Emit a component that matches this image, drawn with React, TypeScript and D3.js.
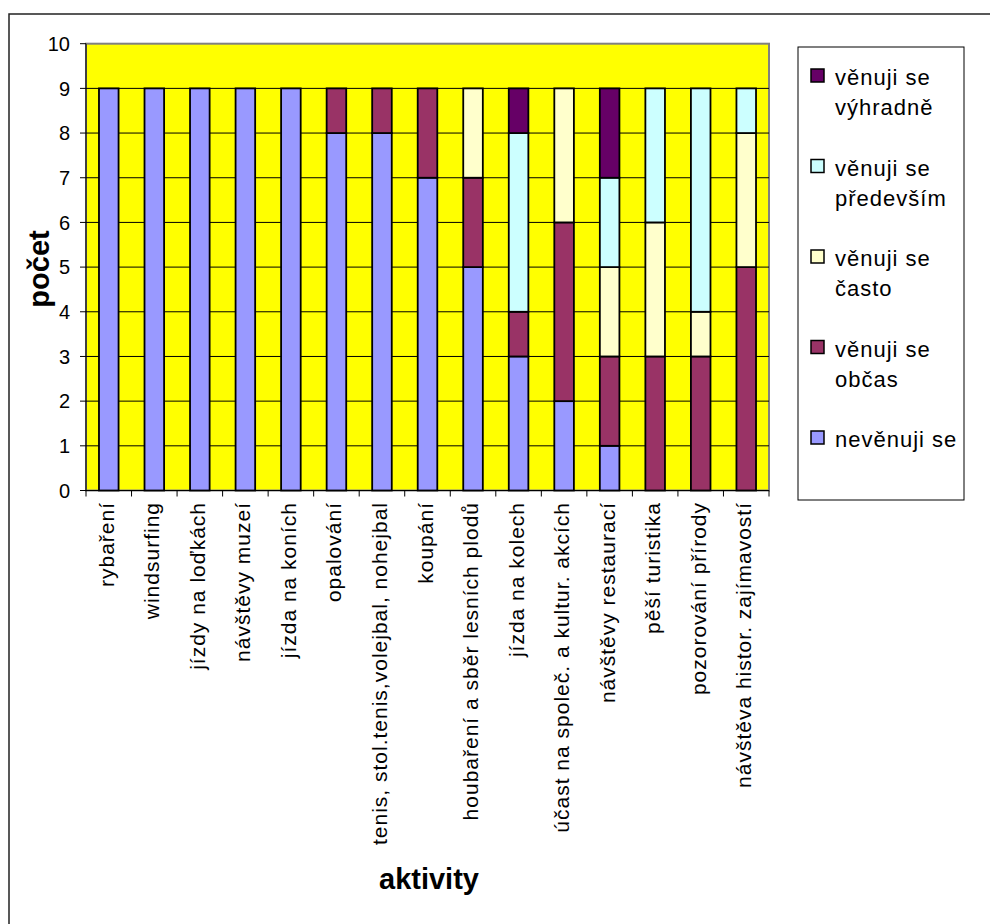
import React from "react";
import * as d3 from "d3";

const categories = [
  "rybaření",
  "windsurfing",
  "jízdy na loďkách",
  "návštěvy muzeí",
  "jízda na koních",
  "opalování",
  "tenis, stol.tenis,volejbal, nohejbal",
  "koupání",
  "houbaření a sběr lesních plodů",
  "jízda na kolech",
  "účast na společ. a kultur. akcích",
  "návštěvy restaurací",
  "pěší turistika",
  "pozorování přírody",
  "návštěva histor. zajímavostí",
];

const seriesNames = [
  "nevěnuji se",
  "věnuji se občas",
  "věnuji se často",
  "věnuji se především",
  "věnuji se výhradně",
];

const nevenujiSe = [9, 9, 9, 9, 9, 8, 8, 7, 5, 3, 2, 1, 0, 0, 0];
const obcas = [0, 0, 0, 0, 0, 1, 1, 2, 2, 1, 4, 2, 3, 3, 5];
const casto = [0, 0, 0, 0, 0, 0, 0, 0, 2, 0, 3, 2, 3, 1, 3];
const predevsim = [0, 0, 0, 0, 0, 0, 0, 0, 0, 4, 0, 2, 3, 5, 1];
const vyhradne = [0, 0, 0, 0, 0, 0, 0, 0, 0, 1, 0, 2, 0, 0, 0];

const yTicks = [0, 1, 2, 3, 4, 5, 6, 7, 8, 9, 10];

const legendLines = [
  ["věnuji se", "výhradně"],
  ["věnuji se", "především"],
  ["věnuji se", "často"],
  ["věnuji se", "občas"],
  ["nevěnuji se"],
];

const colors = ["#9999FF", "#993366", "#FFFFCC", "#CCFFFF", "#660066"];

const FONT = "'Liberation Sans', Arial, sans-serif";

export default function App() {
  const left = 86;
  const right = 769;
  const top = 43.7;
  const bottom = 490.5;

  const x = d3.scaleBand<string>().domain(categories).range([left, right]).padding(0);
  const y = d3.scaleLinear().domain([0, 10]).range([bottom, top]);

  const allSeries = [nevenujiSe, obcas, casto, predevsim, vyhradne];
  const table = categories.map((c, i) => {
    const row: any = { cat: c };
    seriesNames.forEach((s, k) => (row[s] = allSeries[k][i]));
    return row;
  });
  const stacked = d3.stack<any>().keys(seriesNames)(table);

  const bw = x.bandwidth() * 0.43;

  const legendOrder = [4, 3, 2, 1, 0];

  return (
    <svg
      width={990}
      height={924}
      style={{ position: "absolute", left: 0, top: 0, display: "block", background: "#fff" }}
      fontFamily={FONT}
    >
      {/* outer frame */}
      <rect x={9} y={14} width={1100} height={1100} fill="#fff" stroke="#222" strokeWidth={1.5} />

      {/* plot area */}
      <rect x={left} y={top} width={right - left} height={bottom - top} fill="#FFFF00" stroke="#808080" strokeWidth={2} />

      {/* gridlines */}
      {yTicks.slice(1, -1).map((t) => (
        <line key={"g" + t} x1={left} x2={right} y1={y(t)} y2={y(t)} stroke="#000" strokeWidth={1} />
      ))}

      {/* bars */}
      {stacked.map((s, k) =>
        s.map((d, i) => {
          const h = y(d[0]) - y(d[1]);
          if (h <= 0) return null;
          const cx = (x(categories[i]) as number) + x.bandwidth() / 2;
          return (
            <rect
              key={k + "-" + i}
              x={cx - bw / 2}
              y={y(d[1])}
              width={bw}
              height={h}
              fill={colors[k]}
              stroke="#000"
              strokeWidth={1.8}
            />
          );
        })
      )}

      {/* axes */}
      <line x1={left} x2={left} y1={top} y2={bottom} stroke="#000" strokeWidth={1} />
      <line x1={left} x2={right} y1={bottom} y2={bottom} stroke="#000" strokeWidth={1} />
      {yTicks.map((t) => (
        <g key={"yt" + t}>
          <line x1={left - 6} x2={left} y1={y(t)} y2={y(t)} stroke="#000" strokeWidth={1} />
          <text x={70} y={y(t)} dy="0.36em" textAnchor="end" fontSize={20} fill="#000">
            {t}
          </text>
        </g>
      ))}
      {categories.map((c, i) => {
        const x0 = x(c) as number;
        return (
          <line key={"xt" + i} x1={x0} x2={x0} y1={bottom} y2={bottom + 6} stroke="#000" strokeWidth={1} />
        );
      })}
      <line x1={right} x2={right} y1={bottom} y2={bottom + 6} stroke="#000" strokeWidth={1} />

      {categories.map((c, i) => {
        const cx = (x(c) as number) + x.bandwidth() / 2 + 5;
        return (
          <text
            key={"xl" + i}
            transform={`translate(${cx},502) rotate(-90)`}
            textAnchor="end"
            fontSize={21}
            letterSpacing={1}
            fill="#000"
          >
            {c}
          </text>
        );
      })}

      {/* axis titles */}
      <text
        transform={`translate(49,269) rotate(-90)`}
        textAnchor="middle"
        fontSize={29}
        fontWeight="bold"
        fill="#000"
      >
        počet
      </text>
      <text x={429} y={889} textAnchor="middle" fontSize={29} fontWeight="bold" fill="#000">
        aktivity
      </text>

      {/* legend */}
      <rect x={798} y={47} width={166} height={453} fill="#fff" stroke="#000" strokeWidth={1} />
      {legendOrder.map((k, j) => {
        const base = 85 + j * 90.5;
        return (
          <g key={"lg" + k}>
            <rect x={811} y={base - 16} width={13} height={13} fill={colors[k]} stroke="#000" strokeWidth={1.5} />
            {legendLines[j].map((ln, li) => (
              <text key={li} x={835} y={base + li * 30} fontSize={22} letterSpacing={1} fill="#000">
                {ln}
              </text>
            ))}
          </g>
        );
      })}
    </svg>
  );
}
